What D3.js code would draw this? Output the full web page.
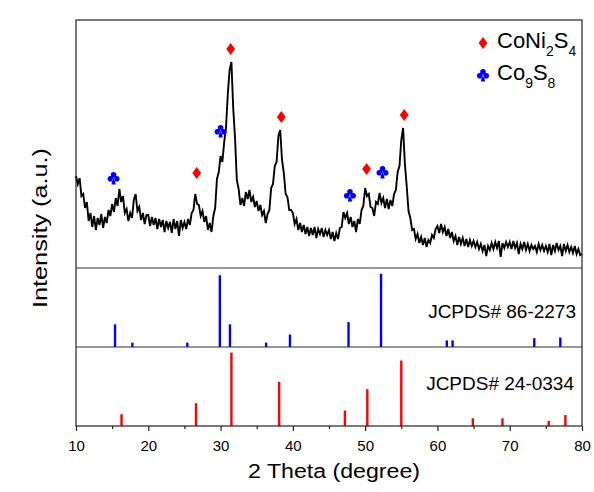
<!DOCTYPE html>
<html>
<head>
<meta charset="utf-8">
<script src="https://cdn.jsdelivr.net/npm/d3@7"></script>
<style>
  body { margin: 0; background: #fff; }
  text { font-family: "Liberation Sans", Arial, sans-serif; }
</style>
</head>
<body>
<div id="chart"></div>
<script>
// measured XRD scan, 2 theta from 10 to 80 in 0.25 steps
const scanStart = 10;
const scanStep = 0.25;
const scanIntensity = [
  92, 84, 90, 72, 74, 60, 66, 47, 55, 41, 52, 38, 50, 43, 54, 40, 51, 45, 58, 52,
  64, 56, 70, 62, 79, 66, 72, 55, 59, 47, 55, 50, 68, 74, 57, 61, 48, 55, 44, 53,
  53, 42, 51, 43, 50, 39, 49, 41, 48, 36, 47, 40, 46, 35, 49, 39, 47, 32, 48, 40,
  46, 39, 49, 43, 55, 58, 74, 64, 63, 52, 57, 46, 52, 38, 45, 36, 52, 60, 89, 96,
  112, 106, 126, 140, 174, 198, 206, 160, 130, 88, 79, 63, 70, 62, 76, 69, 78, 66, 71, 61,
  67, 57, 63, 53, 57, 45, 54, 58, 80, 84, 102, 106, 132, 138, 108, 95, 74, 71, 58, 58,
  55, 44, 49, 38, 45, 36, 43, 34, 41, 32, 40, 33, 41, 30, 39, 34, 40, 31, 38, 33,
  38, 29, 36, 27, 35, 29, 40, 41, 56, 50, 55, 44, 51, 41, 47, 36, 49, 44, 58, 62,
  80, 72, 74, 61, 60, 52, 66, 64, 75, 65, 70, 60, 69, 59, 68, 62, 74, 78, 96, 102,
  128, 140, 104, 82, 57, 50, 38, 39, 29, 34, 25, 31, 23, 30, 21, 28, 25, 33, 30, 39,
  42, 35, 44, 36, 41, 32, 39, 30, 36, 27, 32, 23, 31, 24, 30, 22, 29, 21, 28, 22,
  27, 21, 26, 19, 24, 17, 23, 12, 22, 18, 25, 19, 26, 20, 27, 11, 25, 20, 26, 21,
  26, 19, 27, 20, 25, 14, 24, 19, 26, 18, 24, 17, 23, 19, 22, 16, 24, 18, 23, 17,
  22, 16, 24, 13, 23, 17, 25, 18, 22, 12, 24, 17, 23, 16, 21, 15, 22, 14, 19, 13,
  14
];

// phase markers above the peaks
const coNiTheta = [26.7, 31.4, 38.4, 50.2, 55.4];
const coNiMarkY = [95, 219, 151, 99, 153];
const co9Theta = [15.2, 30.0, 47.9, 52.4];
const co9MarkY = [90, 137, 73, 96];

// JCPDS 86-2273 (Co9S8) standard lines
const co9RefTheta = [15.4, 17.8, 25.4, 29.9, 31.3, 36.3, 39.6, 47.7, 52.2, 61.3, 62.1, 73.4, 77.0];
const co9RefInt = [31, 6, 6, 98, 31, 6, 17, 34, 100, 9, 9, 12, 13];

// JCPDS 24-0334 (CoNi2S4) standard lines
const coNiRefTheta = [16.3, 26.6, 31.5, 38.1, 47.2, 50.3, 55.0, 64.9, 69.0, 75.4, 77.7];
const coNiRefInt = [16, 31, 100, 60, 21, 50, 89, 10.5, 10.5, 7, 15];

const majorTicks = [10, 20, 30, 40, 50, 60, 70, 80];
const minorTicks = [15, 25, 35, 45, 55, 65, 75];

const width = 594;
const height = 492;
const left = 76, right = 582;
const top1 = 20, bot1 = 268, bot2 = 347, bot3 = 426;

const svg = d3
  .select("#chart")
  .append("svg")
  .attr("width", width)
  .attr("height", height);

const x = d3.scaleLinear().domain([10, 80]).range([left, right]);
const yScan = d3.scaleLinear().domain([0, 248]).range([bot1, top1]);
const yCo9 = d3.scaleLinear().domain([0, 106.5]).range([bot2, bot1 + 1]);
const yCoNi = d3.scaleLinear().domain([0, 107.5]).range([bot3, bot2]);

const scan = scanIntensity.map((v, i) => ({ t: scanStart + i * scanStep, v: v }));

// top panel: pattern
const line = d3
  .line()
  .x((d) => x(d.t))
  .y((d) => yScan(d.v));

svg
  .append("path")
  .datum(scan)
  .attr("fill", "none")
  .attr("stroke", "#000")
  .attr("stroke-width", 1.9)
  .attr("stroke-linejoin", "miter")
  .attr("d", line);

function diamond(cx, cy) {
  return `M${cx},${cy - 6}L${cx + 4.4},${cy}L${cx},${cy + 6}L${cx - 4.4},${cy}Z`;
}

function club(cx, cy) {
  const r = 2.8;
  const p = d3.path();
  [[0, -3.2], [-3.2, 0.8], [3.2, 0.8]].forEach(([dx, dy]) => {
    p.moveTo(cx + dx + r, cy + dy);
    p.arc(cx + dx, cy + dy, r, 0, 2 * Math.PI);
  });
  p.moveTo(cx - 0.6, cy);
  p.lineTo(cx - 2.2, cy + 6.6);
  p.lineTo(cx + 2.2, cy + 6.6);
  p.lineTo(cx + 0.6, cy);
  p.closePath();
  return p.toString();
}

svg
  .selectAll(".mk-diamond")
  .data(coNiTheta)
  .enter()
  .append("path")
  .attr("class", "mk-diamond")
  .attr("d", (d, i) => diamond(x(d), yScan(coNiMarkY[i])))
  .attr("fill", "#ff0000");

svg
  .selectAll(".mk-club")
  .data(co9Theta)
  .enter()
  .append("path")
  .attr("class", "mk-club")
  .attr("d", (d, i) => club(x(d), yScan(co9MarkY[i])))
  .attr("fill", "#0000ff");

// legend
svg.append("path").attr("d", diamond(483, 43)).attr("fill", "#ff0000");
svg.append("path").attr("d", club(483, 75)).attr("fill", "#0000ff");

const leg1 = svg.append("text").attr("x", 497).attr("y", 48).attr("font-size", 22);
leg1.append("tspan").text("CoNi");
leg1.append("tspan").attr("dy", 8).attr("font-size", 14).text("2");
leg1.append("tspan").attr("dy", -8).text("S");
leg1.append("tspan").attr("dy", 8).attr("font-size", 14).text("4");

const leg2 = svg.append("text").attr("x", 497).attr("y", 80).attr("font-size", 22);
leg2.append("tspan").text("Co");
leg2.append("tspan").attr("dy", 8).attr("font-size", 14).text("9");
leg2.append("tspan").attr("dy", -8).text("S");
leg2.append("tspan").attr("dy", 8).attr("font-size", 14).text("8");

// middle and bottom panels: standard sticks
svg
  .selectAll(".co9-ref")
  .data(co9RefTheta)
  .enter()
  .append("line")
  .attr("class", "co9-ref")
  .attr("x1", (d) => x(d))
  .attr("x2", (d) => x(d))
  .attr("y1", yCo9(0))
  .attr("y2", (d, i) => yCo9(co9RefInt[i]))
  .attr("stroke", "#0000ff")
  .attr("stroke-width", 2.4);

svg
  .selectAll(".coni-ref")
  .data(coNiRefTheta)
  .enter()
  .append("line")
  .attr("class", "coni-ref")
  .attr("x1", (d) => x(d))
  .attr("x2", (d) => x(d))
  .attr("y1", yCoNi(0))
  .attr("y2", (d, i) => yCoNi(coNiRefInt[i]))
  .attr("stroke", "#ff0000")
  .attr("stroke-width", 2.4);

svg
  .append("text")
  .attr("x", 576)
  .attr("y", 318)
  .attr("text-anchor", "end")
  .attr("font-size", 19)
  .text("JCPDS# 86-2273");

svg
  .append("text")
  .attr("x", 574)
  .attr("y", 390)
  .attr("text-anchor", "end")
  .attr("font-size", 19)
  .text("JCPDS# 24-0334");

// frame and panel separators
svg
  .append("rect")
  .attr("x", left)
  .attr("y", top1)
  .attr("width", right - left)
  .attr("height", bot3 - top1)
  .attr("fill", "none")
  .attr("stroke", "#222")
  .attr("stroke-width", 1.2);

[bot1, bot2].forEach((yy) => {
  svg
    .append("line")
    .attr("x1", left)
    .attr("x2", right)
    .attr("y1", yy)
    .attr("y2", yy)
    .attr("stroke", "#333")
    .attr("stroke-width", 1.2);
});

// Axes
const axisMajor = svg
  .append("g")
  .attr("transform", `translate(0, ${bot3})`)
  .call(d3.axisBottom(x).tickValues(majorTicks).tickSize(5).tickPadding(9));
const axisMinor = svg
  .append("g")
  .attr("transform", `translate(0, ${bot3})`)
  .call(d3.axisBottom(x).tickValues(minorTicks).tickSize(3).tickFormat(""));

[axisMajor, axisMinor].forEach((g) => {
  g.select(".domain").remove();
  g.selectAll("line").attr("stroke", "#222").attr("stroke-width", 1.2);
});
axisMajor
  .selectAll("text")
  .attr("font-family", "Liberation Sans, Arial, sans-serif")
  .attr("font-size", 15)
  .attr("fill", "#000");

svg
  .append("text")
  .attr("x", 334)
  .attr("y", 478)
  .attr("text-anchor", "middle")
  .attr("font-size", 20)
  .attr("textLength", 172)
  .attr("lengthAdjust", "spacingAndGlyphs")
  .text("2 Theta (degree)");

svg
  .append("text")
  .attr("transform", "translate(47, 228) rotate(-90)")
  .attr("text-anchor", "middle")
  .attr("font-size", 20)
  .attr("textLength", 160)
  .attr("lengthAdjust", "spacingAndGlyphs")
  .text("Intensity (a.u.)");
</script>
</body>
</html>
